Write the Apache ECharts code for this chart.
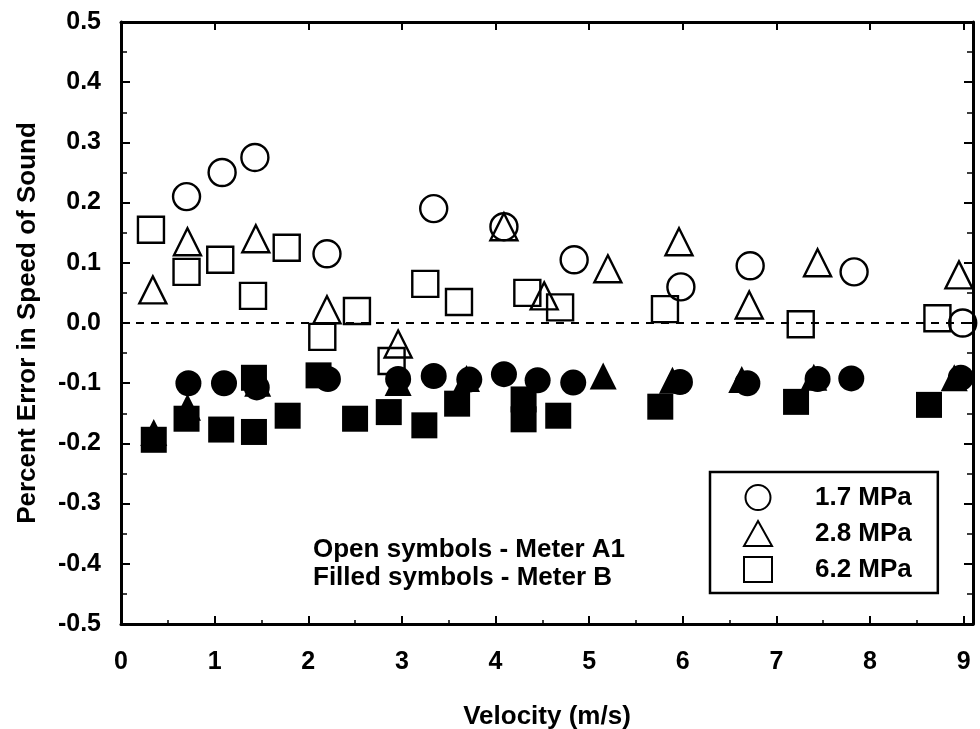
<!DOCTYPE html>
<html>
<head>
<meta charset="utf-8">
<script src="https://cdn.jsdelivr.net/npm/echarts@6.0.0/dist/echarts.min.js"></script>
<style>
html,body{margin:0;padding:0;background:#fff;}
#chart{width:980px;height:729px;}
</style>
</head>
<body>
<div id="chart"></div>
<script>
// Meter A1 (open symbols): [velocity m/s, percent error]
const open17 = [[0.70,0.21],[1.08,0.25],[1.43,0.275],[2.20,0.115],[3.34,0.19],[4.09,0.16],[4.84,0.105],[5.98,0.06],[6.72,0.095],[7.83,0.085],[8.99,0.0]];
const open28 = [[0.34,0.055],[0.71,0.135],[1.44,0.14],[2.20,0.022],[2.96,-0.035],[4.09,0.16],[4.52,0.045],[5.20,0.09],[5.96,0.135],[6.71,0.03],[7.44,0.10],[8.95,0.08]];
const open62 = [[0.32,0.155],[0.70,0.085],[1.06,0.105],[1.41,0.045],[1.77,0.125],[2.15,-0.023],[2.52,0.02],[2.89,-0.063],[3.25,0.065],[3.61,0.035],[4.34,0.05],[4.69,0.026],[5.81,0.023],[7.26,-0.002],[8.72,0.008]];
// Meter B (filled symbols)
const filled17 = [[0.72,-0.10],[1.10,-0.10],[1.45,-0.107],[2.21,-0.093],[2.96,-0.093],[3.34,-0.088],[3.72,-0.094],[4.09,-0.085],[4.45,-0.095],[4.83,-0.099],[5.97,-0.098],[6.69,-0.10],[7.44,-0.093],[7.80,-0.092],[8.97,-0.091]];
const filled28 = [[0.35,-0.182],[0.71,-0.14],[1.46,-0.10],[2.96,-0.099],[3.69,-0.092],[5.15,-0.088],[5.89,-0.095],[6.63,-0.094],[7.40,-0.090],[8.90,-0.091]];
const filled62 = [[0.35,-0.194],[0.70,-0.159],[1.07,-0.177],[1.42,-0.181],[1.42,-0.091],[1.78,-0.154],[2.11,-0.087],[2.50,-0.159],[2.86,-0.148],[3.24,-0.170],[3.59,-0.134],[4.30,-0.127],[4.30,-0.160],[4.67,-0.154],[5.76,-0.139],[7.21,-0.131],[8.63,-0.136]];

const legendNames = ['1.7 MPa','2.8 MPa','6.2 MPa'];
const xTitle = 'Velocity (m/s)';
const yTitle = 'Percent Error in Speed of Sound';
const noteText = 'Open symbols - Meter A1\nFilled symbols - Meter B';

const FONT = 'Liberation Sans, Arial, sans-serif';
const txt = (size) => ({color:'#000', fontSize:size, fontWeight:'bold', fontFamily:FONT});

const axisLine = {show:true, onZero:false, lineStyle:{color:'#000', width:3}};
const xFmt = v => Math.abs(v - Math.round(v)) < 1e-9 ? String(Math.round(v)) : '';
const yFmt = v => Math.abs(v) < 1e-9 ? '0.0' : v.toFixed(1);

function openSeries(name, symbol, data, size){
  return {type:'scatter', name, symbol, symbolSize:size, data,
    itemStyle:{color:'rgba(0,0,0,0)', borderColor:'#000', borderWidth:2.4, opacity:1}, z:4};
}
function filledSeries(name, symbol, data, size){
  return {type:'scatter', name, symbol, symbolSize:size, data,
    itemStyle:{color:'#000', borderWidth:0, opacity:1}, z:3};
}

const chart = echarts.init(document.getElementById('chart'), null, {renderer:'canvas'});
chart.setOption({
  backgroundColor:'#fff',
  animation:false,
  grid:{left:121, top:22, width:852, height:602, containLabel:false, outerBoundsMode:'none'},
  xAxis:[
    {type:'value', position:'bottom', min:0, max:9.1, interval:1,
     axisLine, splitLine:{show:false},
     axisTick:{inside:true, length:8, lineStyle:{color:'#000', width:2}},
     minorTick:{show:true, splitNumber:2, length:4, lineStyle:{color:'#000', width:1.5}},
     axisLabel:Object.assign({formatter:xFmt, margin:26}, txt(25)),
     name:xTitle, nameLocation:'middle', nameGap:80, nameTextStyle:txt(26)},
    {type:'value', position:'top', min:0, max:9.1, interval:1,
     axisLine, splitLine:{show:false},
     axisTick:{inside:true, length:8, lineStyle:{color:'#000', width:2}},
     axisLabel:{show:false}}
  ],
  yAxis:[
    {type:'value', position:'left', min:-0.5, max:0.5, interval:0.1,
     axisLine, splitLine:{show:false},
     axisTick:{inside:true, length:9, lineStyle:{color:'#000', width:2}},
     minorTick:{show:true, splitNumber:2, length:6, lineStyle:{color:'#000', width:1.5}},
     axisLabel:Object.assign({formatter:yFmt, margin:20}, txt(25)),
     name:yTitle, nameLocation:'middle', nameGap:80, nameRotate:90, nameTextStyle:txt(26)},
    {type:'value', position:'right', min:-0.5, max:0.5, interval:0.1,
     axisLine, splitLine:{show:false},
     axisTick:{inside:true, length:9, lineStyle:{color:'#000', width:2}},
     minorTick:{show:true, splitNumber:2, length:6, lineStyle:{color:'#000', width:1.5}},
     axisLabel:{show:false}}
  ],
  legend:{
    data:legendNames, orient:'vertical', left:710, top:472,
    padding:[12,26,10,33], itemGap:9, itemWidth:28, itemHeight:25,
    borderColor:'#000', borderWidth:2.5, backgroundColor:'#fff',
    textStyle:Object.assign({padding:[0,0,0,38]}, txt(26)),
    selectedMode:false
  },
  graphic:[
    {type:'text', left:313, top:536, z:10,
     style:{text:noteText, font:'bold 26px ' + FONT, fill:'#000', lineHeight:28}}
  ],
  series:[
    filledSeries('1.7 MPa Meter B','circle',filled17,26),
    filledSeries('2.8 MPa Meter B','triangle',filled28,27),
    filledSeries('6.2 MPa Meter B','rect',filled62,26),
    Object.assign(openSeries(legendNames[0],'circle',open17,27), {
      markLine:{silent:true, symbol:'none', label:{show:false},
        lineStyle:{color:'#000', type:[8,7], width:2},
        data:[{yAxis:0}]}
    }),
    openSeries(legendNames[1],'triangle',open28,27),
    openSeries(legendNames[2],'rect',open62,26)
  ]
});
</script>
</body>
</html>
